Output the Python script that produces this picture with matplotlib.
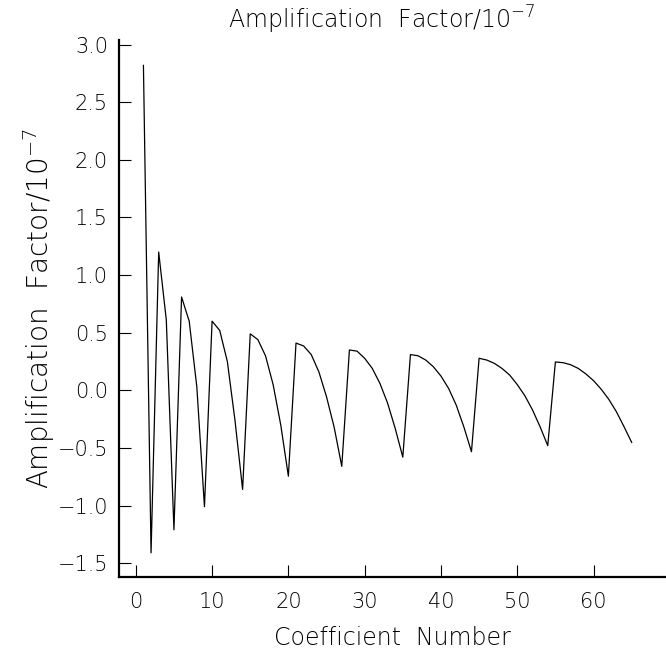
import numpy as np
import matplotlib
matplotlib.use("Agg")
import matplotlib.pyplot as plt

# coefficient numbers 1..65
coef = np.arange(1, 66)

amp = [
    2.82,
    -1.41,
    1.20, 0.61, -1.21,
    0.81, 0.60, 0.03, -1.01,
    0.60, 0.52, 0.25, -0.26, -0.86,
    0.49, 0.44, 0.30, 0.05, -0.30, -0.745,
    0.41, 0.385, 0.31, 0.16, -0.056, -0.32, -0.66,
    0.35, 0.34, 0.278, 0.19, 0.06, -0.11, -0.33, -0.58,
    0.31, 0.30, 0.263, 0.205, 0.124, 0.017, -0.128, -0.317, -0.533,
    0.278, 0.263, 0.234, 0.19, 0.133, 0.05, -0.047, -0.17, -0.317, -0.48,
    0.246, 0.24, 0.222, 0.19, 0.142, 0.084, 0.01, -0.078, -0.186, -0.316, -0.452,
]

xticks = [0, 10, 20, 30, 40, 50, 60]
yticks = [3.0, 2.5, 2.0, 1.5, 1.0, 0.5, 0.0, -0.5, -1.0, -1.5]

plt.rcParams['font.family'] = ['DejaVu Sans']
plt.rcParams['font.weight'] = 'light'
plt.rcParams['axes.labelweight'] = 'light'
plt.rcParams['axes.titleweight'] = 'light'
plt.rcParams['font.size'] = 15

fig = plt.figure(figsize=(6.66, 6.53), dpi=100)
ax = fig.add_axes([0.1787, 0.1164, 0.8213, 0.8223])

ax.plot(coef, amp, color="black", linewidth=0.9)

ax.set_xlim(-2.2, 69.5)
ax.set_ylim(-1.62, 3.04)
ax.set_xticks(xticks)
ax.set_yticks(yticks)
ax.set_yticklabels([f"{v:.1f}".replace("-", "\u2212") for v in yticks])

for side in ["top", "right"]:
    ax.spines[side].set_visible(False)
for side in ["left", "bottom"]:
    ax.spines[side].set_linewidth(1.6)

ax.tick_params(direction="in", length=8.5, width=0.8, pad=8)
ax.tick_params(axis="x", pad=11)

ax.set_xlabel("Coefficient  Number", fontsize=17, labelpad=10)
ax.set_ylabel(r"Amplification  Factor/10$^{-7}$", fontsize=20, labelpad=0)
ax.set_title(r"Amplification  Factor/10$^{-7}$", fontsize=17, pad=8, x=0.48)

fig.savefig("out.png", dpi=100)
